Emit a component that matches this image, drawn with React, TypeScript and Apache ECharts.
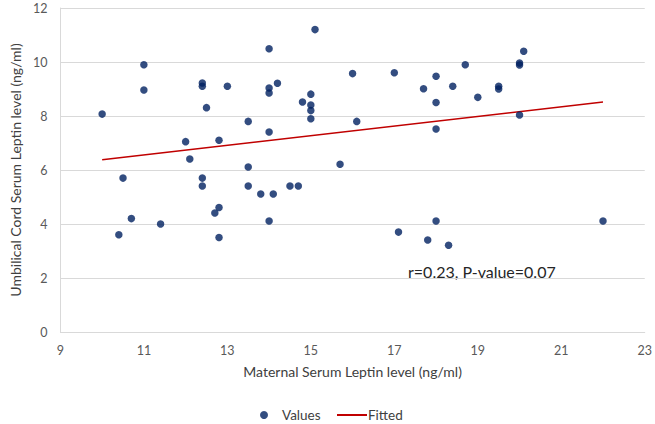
import React, { useEffect, useRef } from "react";
import * as echarts from "echarts";

const valuesX = [10, 10.4, 10.5, 10.7, 11, 11, 11.4, 12, 12.1, 12.4, 12.4, 12.4, 12.4, 12.5, 12.7, 12.8, 12.8, 12.8, 13, 13.5, 13.5, 13.5, 13.8, 14, 14, 14, 14, 14, 14.1, 14.2, 14.5, 14.7, 14.8, 15, 15, 15, 15, 15.1, 15.7, 16, 16.1, 17, 17.1, 17.7, 17.8, 18, 18, 18, 18, 18.3, 18.4, 18.7, 19, 19.5, 19.5, 20, 20, 20.1, 20, 22];
const valuesY = [8.07, 3.6, 5.7, 4.2, 9.9, 8.96, 4.0, 7.05, 6.41, 9.22, 9.1, 5.7, 5.41, 8.31, 4.41, 7.1, 4.61, 3.5, 9.1, 7.8, 6.11, 5.41, 5.11, 10.49, 9.04, 8.85, 7.41, 4.11, 5.11, 9.21, 5.41, 5.41, 8.52, 8.81, 8.41, 8.2, 7.9, 11.2, 6.21, 9.57, 7.8, 9.6, 3.7, 9.01, 3.41, 9.47, 8.5, 7.52, 4.11, 3.21, 9.1, 9.9, 8.69, 9.1, 9.0, 9.96, 9.89, 10.4, 8.04, 4.11];
const fittedX = [10, 22];
const fittedY = [6.38, 8.52];
const annotation = "r=0.23, P-value=0.07";
const xName = "Maternal Serum Leptin level (ng/ml)";
const yName = "Umbilical Cord Serum Leptin level (ng/ml)";

const FONT = "Lato";

export default function App() {
  const ref = useRef<HTMLDivElement>(null);
  useEffect(() => {
    if (!ref.current) return;
    const chart = echarts.init(ref.current, undefined, { renderer: "svg" });
    chart.setOption({
      animation: false,
      textStyle: { fontFamily: FONT },
      grid: { left: 49, right: 10, top: 8, bottom: 92, containLabel: false },
      xAxis: {
        type: "value",
        min: 9,
        max: 23,
        interval: 2,
        name: xName,
        nameLocation: "middle",
        nameGap: 32,
        nameTextStyle: { fontFamily: FONT, fontSize: 14, color: "#404040" },
        axisLine: { show: true, lineStyle: { color: "#d9d9d9" } },
        axisTick: { show: false },
        splitLine: { show: false },
        axisLabel: { fontFamily: FONT, fontSize: 12.5, color: "#595959", margin: 12 },
      },
      yAxis: {
        type: "value",
        min: 0,
        max: 12,
        interval: 2,
        name: yName,
        nameLocation: "middle",
        nameGap: 33,
        nameTextStyle: { fontFamily: FONT, fontSize: 14, color: "#404040" },
        axisLine: { show: true, lineStyle: { color: "#d9d9d9" } },
        axisTick: { show: false },
        splitLine: { show: true, lineStyle: { color: "#d9d9d9" } },
        axisLabel: { fontFamily: FONT, fontSize: 12.5, color: "#595959", margin: 13 },
      },
      legend: [
        {
          data: [{ name: "Values", icon: "circle" }],
          left: 255,
          top: 403,
          itemWidth: 8,
          itemHeight: 8,
          itemGap: 4,
          textStyle: { fontFamily: FONT, fontSize: 13.5, color: "#404040", padding: [0, 0, 0, 9] },
        },
        {
          data: [{ name: "Fitted", icon: "rect" }],
          left: 332,
          top: 403,
          itemWidth: 30,
          itemHeight: 2,
          itemGap: 2,
          textStyle: { fontFamily: FONT, fontSize: 13.5, color: "#404040", padding: [0, 0, 0, -4] },
        },
      ],
      series: [
        {
          name: "Values",
          type: "scatter",
          symbol: "circle",
          symbolSize: 7.5,
          itemStyle: { color: "#002060" },
          data: valuesX.map((x, i) => [x, valuesY[i]]),
          z: 3,
        },
        {
          name: "Fitted",
          type: "line",
          showSymbol: false,
          symbol: "none",
          lineStyle: { color: "#c00000", width: 1.5 },
          itemStyle: { color: "#c00000" },
          data: fittedX.map((x, i) => [x, fittedY[i]]),
          z: 2,
        },
      ],
      graphic: [
        {
          type: "text",
          left: 408,
          top: 263,
          style: { text: annotation, fontFamily: FONT, fontSize: 16, fill: "#262626" },
        },
      ],
    });
    return () => chart.dispose();
  }, []);
  return (
    <div
      ref={ref}
      style={{ position: "fixed", left: 0, top: 0, width: 655, height: 424, background: "#fff" }}
    />
  );
}
